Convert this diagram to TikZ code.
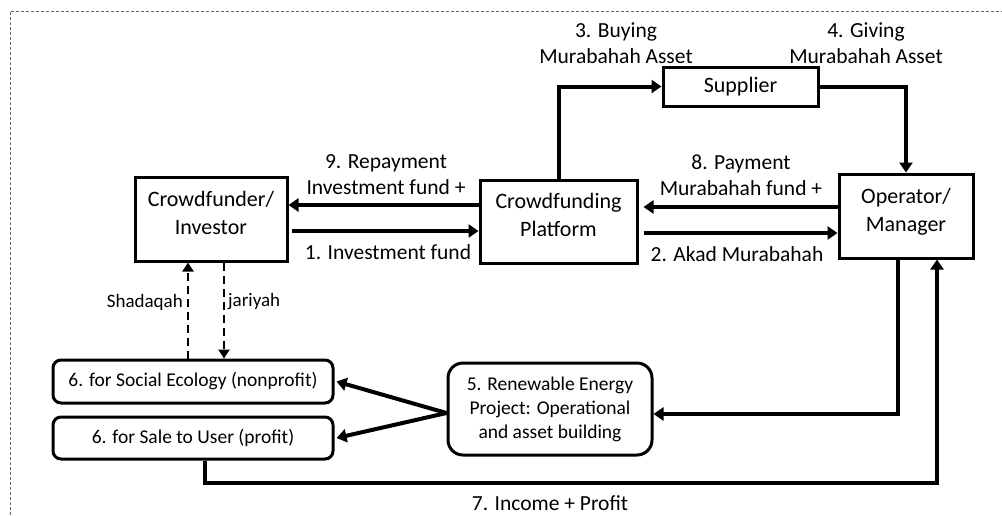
\documentclass[tikz,border=0pt]{standalone}
\usepackage{fontspec}
\setmainfont{Carlito}
\usetikzlibrary{arrows.meta}
\begin{document}
\begin{tikzpicture}[x=1pt,y=-1pt,
  box/.style={draw,line width=3pt,inner sep=0pt,align=center,
    font=\fontsize{22}{28}\selectfont},
  rbox/.style={draw,line width=3pt,inner sep=0pt,align=center,rounded corners=8pt,
    font=\fontsize{19.5}{24}\selectfont},
  lbl/.style={inner sep=0pt,align=center,font=\fontsize{21.5}{26}\selectfont},
  slbl/.style={inner sep=0pt,font=\fontsize{19}{23}\selectfont},
  arr/.style={line width=4pt,-{Triangle[length=10pt,width=13pt]}},
  darr/.style={line width=2.5pt,dash pattern=on 8pt off 5pt,-{Triangle[length=9pt,width=11pt]}}
]
\useasboundingbox (0,0) rectangle (1002,515);
\draw[gray!80!black,line width=1pt,dash pattern=on 3pt off 2pt] (10,515) -- (10,11) -- (1002,11);

% nodes
\node[box,minimum width=152pt,minimum height=84pt] (cf) at (211,219) {Crowdfunder/\\Investor\\[-16pt]\mbox{}};
\node[box,minimum width=157pt,minimum height=83pt] (cp) at (558.5,221.5) {Crowdfunding\\Platform\\[-14pt]\mbox{}};
\node[box,minimum width=134pt,minimum height=84pt] (op) at (906,216) {Operator/\\Manager\\[-16pt]\mbox{}};
\node[box,minimum width=155pt,minimum height=39pt] (sup) at (740.5,86.5) {Supplier};
\node[rbox,minimum width=280pt,minimum height=43pt] (soc) at (193,381.5) {6. for Social Ecology (nonprofit)};
\node[rbox,minimum width=280pt,minimum height=42pt] (sale) at (193,438) {6. for Sale to User (profit)};
\node[rbox,rounded corners=15pt,minimum width=204pt,minimum height=92pt] (ren) at (550,409)
  {5. Renewable Energy\\Project: Operational\\and asset building};

% labels
\node[lbl] (l9) at (386,175) {9. Repayment\\Investment fund +};
\node[lbl] (l1) at (388,252) {1. Investment fund};
\node[lbl] (l8) at (741,175) {8. Payment\\Murabahah fund +};
\node[lbl] (l2) at (737,254) {2. Akad Murabahah};
\node[lbl] (l3) at (616,43) {3. Buying\\Murabahah Asset};
\node[lbl] (l4) at (866,43) {4. Giving\\Murabahah Asset};
\node[lbl] (l7) at (550,503) {7. Income + Profit};
\node[slbl,anchor=east] (lsh) at (183,302) {Shadaqah};
\node[slbl,anchor=west] (lja) at (228,302) {jariyah};

% connectors
\draw[arr] (cp.west |- 0,205) -- (cf.east |- 0,205);
\draw[arr] ([xshift=3pt]cf.east |- 0,231) -- (cp.west |- 0,231);
\draw[arr] (op.west |- 0,207) -- ([xshift=5pt]cp.east |- 0,207);
\draw[arr] ([xshift=5pt]cp.east |- 0,233) -- (op.west |- 0,233);
\draw[arr] (cp.north) |- (sup.west);
\draw[arr] (sup.east) -| (op.north);
\draw[arr] ([xshift=-8pt]op.south) |- ([yshift=-5pt]ren.east);
\coordinate (rw) at ([yshift=-4pt]ren.west);
\draw[arr] (rw) -- ([xshift=2pt]soc.east);
\draw[arr] (rw) -- ([xshift=2pt]sale.east);
\coordinate (c7) at (937,483);
\draw[arr] ([xshift=12pt]sale.south) |- (c7) -- (c7 |- op.south);
\draw[darr] (soc.north -| 188,0) -- (cf.south -| 188,0);
\draw[darr] (cf.south -| 224,0) -- (soc.north -| 224,0);
\end{tikzpicture}
\end{document}
